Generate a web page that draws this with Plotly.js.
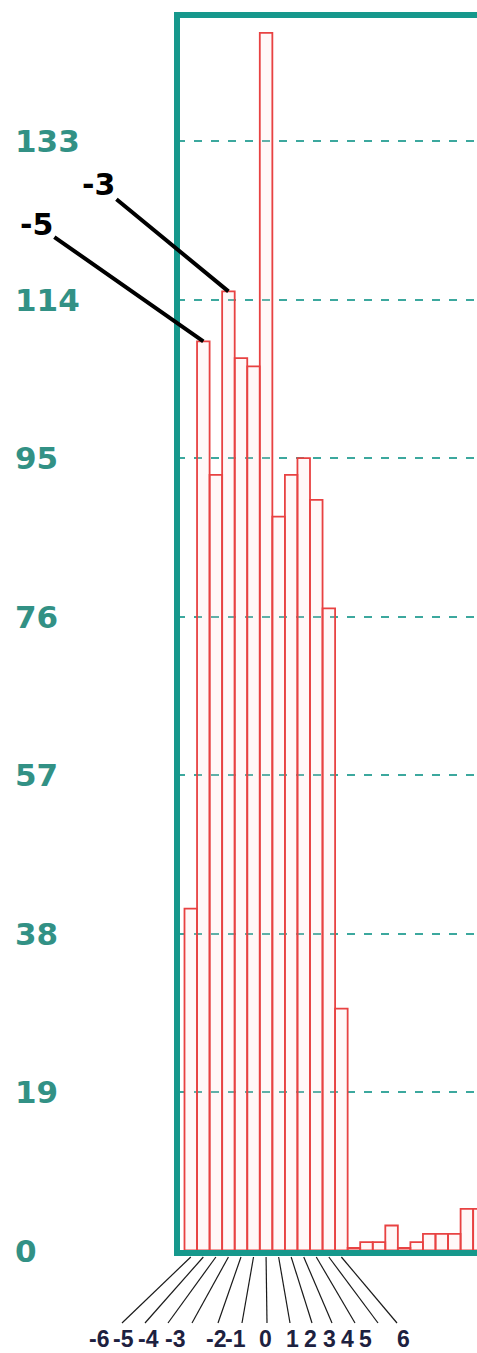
<!DOCTYPE html>
<html><head><meta charset="utf-8">
<script src="https://cdn.plot.ly/plotly-3.0.1.min.js"></script>
<style>
html,body{margin:0;padding:0;overflow:hidden;background:#fff;width:477px;height:1353px}
#chart{width:620px;height:1353px}
</style></head><body><div id="chart"></div>
<script>
// ---- data ----
const bins   = [-6,-5,-4,-3,-2,-1,0,1,2,3,4,5,6,7,8,9,10,11,12,13,14,15,16,17];
const counts = [41,109,93,115,107,106,146,88,93,95,90,77,29,0.3,1,1,3,0.3,1,2,2,2,5,5];
const yTicks = [0,19,38,57,76,95,114,133];
const yTickText = ['0','19','38','57','76','95','114','133'];
const labelBins = [-6,-5,-4,-3,-2,-1,0,1,2,3,4,5,6];
const labelText = ['-6','-5','-4','-3','-2','-1','0','1','2','3','4','5','6'];
const calloutBins = [-5,-3];
const calloutText = ['-5','-3'];

// ---- layout geometry (pixels) ----
const W = 620, H = 1353, ml = 12, mr = 5, mt = 15, mb = 100;
const plotLeft = 177, pxPerX = 12.55, pxPerY = 8.34;
const xmin = -6.5 - (184.5 - plotLeft) / pxPerX;
const plotW = W - mr - plotLeft;
const xmax = xmin + plotW / pxPerX;
const plotH = H - mt - mb;
const ymin = -2.5 / pxPerY;
const ymax = ymin + plotH / pxPerY;
const paperW = W - ml - mr, paperH = H - mt - mb;
const domStart = (plotLeft - ml) / paperW;
const barPx = v => plotLeft + (v - xmin) * pxPerX;
const pxToPaperX = px => (px - ml) / paperW;
const pxToPaperY = py => (H - mb - py) / paperH;

const labelCenterPx = [99,124,148,175,216,236,265,292,310,329,347,365,403];
const leaderEndPx   = [122,145,168,192,218,242,267,290,312,332,355,378,397];
const leaderTopPx = 1257, leaderBottomPx = 1323, labelMidPx = 1339, tickLabelLeftPx = 13;
const calloutOffset = [[-167,-117],[-130,-107]];

const teal = 'rgb(22,152,140)';

const shapes = [{
  type:'rect', xref:'x domain', yref:'y domain', x0:0, x1:1, y0:0, y1:1,
  line:{color:teal, width:6}, layer:'above'
}];
labelBins.forEach((b,k)=>{
  shapes.push({type:'line', xref:'paper', yref:'paper',
    x0:pxToPaperX(barPx(b)), x1:pxToPaperX(leaderEndPx[k]),
    y0:pxToPaperY(leaderTopPx), y1:pxToPaperY(leaderBottomPx),
    line:{color:'#1a1a1a', width:1.2}});
});

const annotations = [];
yTicks.forEach((t,k)=>{
  annotations.push({x:pxToPaperX(tickLabelLeftPx), y:t, xref:'paper', yref:'y',
    text:yTickText[k], showarrow:false, xanchor:'left', yanchor:'middle',
    font:{family:'DejaVu Sans', size:31, color:'rgb(50,145,133)', weight:'bold'}});
});
labelBins.forEach((b,k)=>{
  annotations.push({x:pxToPaperX(labelCenterPx[k]), y:pxToPaperY(labelMidPx),
    xref:'paper', yref:'paper', text:labelText[k], showarrow:false,
    xanchor:'center', yanchor:'middle', borderpad:0,
    font:{family:'Liberation Sans', size:23, color:'#1d2140', weight:'bold'}});
});
calloutBins.forEach((b,k)=>{
  const v = counts[bins.indexOf(b)];
  annotations.push({x:b, y:v, xref:'x', yref:'y', text:calloutText[k], showarrow:true,
    arrowhead:0, arrowwidth:4, arrowcolor:'#000', standoff:0,
    ax:calloutOffset[k][0], ay:calloutOffset[k][1],
    font:{family:'DejaVu Sans', size:30, color:'#000', weight:'bold'}});
});

const trace = {
  type:'bar', x:bins, y:counts, width:1, hoverinfo:'skip',
  marker:{color:'rgba(255,215,215,0.18)', line:{color:'rgb(232,66,66)', width:1.8}}
};

const layout = {
  width:W, height:H, margin:{l:ml, r:mr, t:mt, b:mb},
  paper_bgcolor:'#fff', plot_bgcolor:'#fff', showlegend:false, bargap:0,
  xaxis:{domain:[domStart,1], range:[xmin,xmax], showgrid:false, zeroline:false,
    showticklabels:false, ticks:'', showline:false},
  yaxis:{range:[ymin,ymax], tickvals:yTicks, showticklabels:false, ticks:'',
    showgrid:true, gridcolor:'rgb(60,168,158)', gridwidth:2, griddash:'8px,9px',
    zeroline:false, showline:false},
  shapes:shapes, annotations:annotations
};

Plotly.newPlot('chart', [trace], layout, {staticPlot:true, displayModeBar:false});
</script></body></html>
